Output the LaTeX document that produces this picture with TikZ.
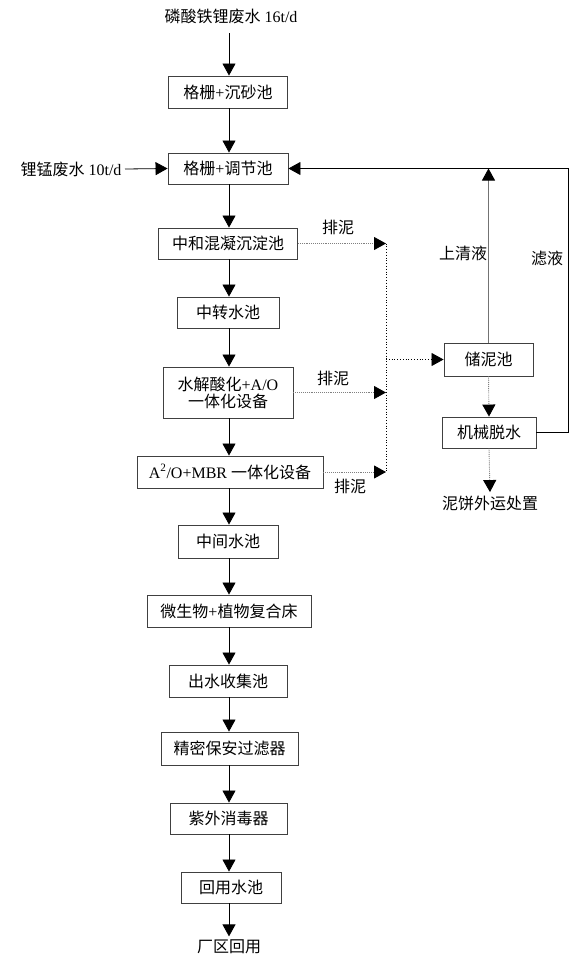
\documentclass[tikz,border=0pt]{standalone}
\usepackage{fontspec}
\setmainfont{Liberation Serif}
\newfontfamily\cjk{Noto Sans CJK SC}
\usetikzlibrary{arrows.meta,calc}
\newcommand{\zh}[1]{{\cjk #1}}

\begin{document}
\begin{tikzpicture}[
    x=1pt, y=-1pt,
    font=\fontsize{16}{19}\selectfont,
    box/.style={rectangle, draw=black!75, line width=0.9pt, inner sep=0pt, align=center},
    tip/.style={-{Triangle[length=12pt, width=13pt, color=black]}},
    flow/.style={tip, line width=0.8pt, draw=black},
    backflow/.style={flow, draw=black!55},
    sludge/.style={tip, line width=0.9pt, densely dotted, draw=black!50},
    junc/.style={line width=0.8pt, dotted, draw=black}
]
\useasboundingbox (0,0) rectangle (578,969);

% main line
\coordinate (ax) at (229,0);
\node (inA) at (231,16) {\zh{磷酸铁锂废水} 16t/d};
\node[box, minimum width=119pt, minimum height=32pt] (grit) at (228,92) {\zh{格栅}+\zh{沉砂池}};
\node (inB) at (71,169) {\zh{锂锰废水} 10t/d};
\node[box, minimum width=120pt, minimum height=31pt] (equal) at (228,168.5) {\zh{格栅}+\zh{调节池}};
\node[box, minimum width=139pt, minimum height=31pt] (coag) at (228,243.5) {\zh{中和混凝沉淀池}};
\node[box, minimum width=102pt, minimum height=31pt] (trans) at (228,312.5) {\zh{中转水池}};
\node[box, minimum width=130pt, minimum height=51pt] (hydro) at (228,392.5) {\zh{水解酸化}+A/O\\[-2pt]\zh{一体化设备}};
\node[box, minimum width=186pt, minimum height=32pt] (mbr) at (230,472) {A\textsuperscript{2}/O+MBR \zh{一体化设备}};
\node[box, minimum width=100pt, minimum height=33pt] (mid) at (228,541.5) {\zh{中间水池}};
\node[box, minimum width=164pt, minimum height=32pt] (bed) at (229,611) {\zh{微生物}+\zh{植物复合床}};
\node[box, minimum width=118pt, minimum height=32pt] (coll) at (228,681) {\zh{出水收集池}};
\node[box, minimum width=137pt, minimum height=33pt] (filt) at (229.5,748.5) {\zh{精密保安过滤器}};
\node[box, minimum width=117pt, minimum height=31pt] (uv) at (228.5,818.5) {\zh{紫外消毒器}};
\node[box, minimum width=100pt, minimum height=31pt] (reuse) at (231,887.5) {\zh{回用水池}};
\node (outA) at (229,947) {\zh{厂区回用}};
\coordinate (top) at (229,33);
\coordinate (inBe) at (125,169);

% sludge line
\node[box, minimum width=89pt, minimum height=33pt] (store) at (488.5,359.5) {\zh{储泥池}};
\node[box, minimum width=94pt, minimum height=31pt] (dewat) at (489,432.5) {\zh{机械脱水}};
\node (cake) at (490,503) {\zh{泥饼外运处置}};
\coordinate (jx) at (386,0);
\coordinate (rt) at (568,168.5);

% labels
\node (l1) at (338,227) {\zh{排泥}};
\node (l2) at (333,378) {\zh{排泥}};
\node (l3) at (350,486) {\zh{排泥}};
\node (l4) at (463,253) {\zh{上清液}};
\node (l5) at (547,258) {\zh{滤液}};

\draw[flow] (top) -- (grit.north -| ax);
\draw[flow] (grit.south -| ax) -- (equal.north -| ax);
\draw[flow] (inBe) -- (equal.west);
\draw[flow] (equal.south -| ax) -- (coag.north -| ax);
\draw[flow] (coag.south -| ax) -- (trans.north -| ax);
\draw[flow] (trans.south -| ax) -- (hydro.north -| ax);
\draw[flow] (hydro.south -| ax) -- (mbr.north -| ax);
\draw[flow] (mbr.south -| ax) -- (mid.north -| ax);
\draw[flow] (mid.south -| ax) -- (bed.north -| ax);
\draw[flow] (bed.south -| ax) -- (coll.north -| ax);
\draw[flow] (coll.south -| ax) -- (filt.north -| ax);
\draw[flow] (filt.south -| ax) -- (uv.north -| ax);
\draw[flow] (uv.south -| ax) -- (reuse.north -| ax);
\draw[flow] (reuse.south -| ax) -- (outA.north);

\draw[sludge] (coag.east) -- (coag.east -| jx);
\draw[sludge] (hydro.east) -- (hydro.east -| jx);
\draw[sludge] (mbr.east) -- (mbr.east -| jx);
\draw[junc] (coag.east -| jx) -- (mbr.east -| jx);
\draw[tip, junc] (jx |- store.west) -- (store.west);
\draw[sludge] (store.south) -- (dewat.north);
\draw[sludge] (dewat.south) -- (cake.north);

\draw[backflow] (store.north) -- (store.north |- rt);
\draw[flow] (dewat.east) -| (rt) -- (equal.east);

\end{tikzpicture}
\end{document}
